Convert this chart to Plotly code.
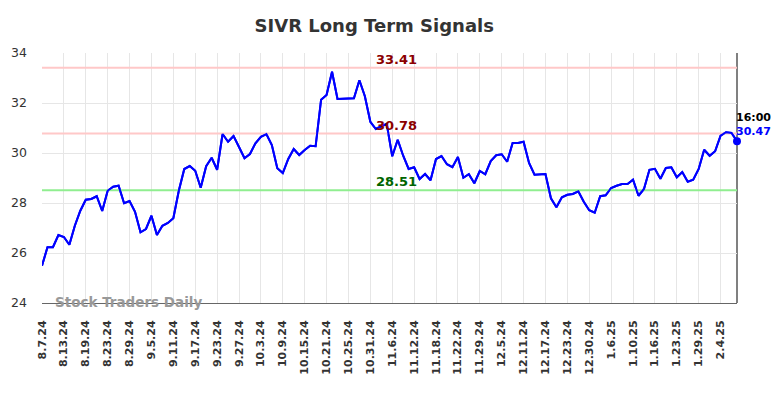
import pandas as pd
import plotly.graph_objects as go

holidays = ["2024-09-02", "2024-11-28", "2024-12-25", "2025-01-01", "2025-01-20"]
days = [d for d in pd.bdate_range("2024-08-07", "2025-02-13") if d.strftime("%Y-%m-%d") not in holidays]
dates = [f"{d.month}.{d.day}.{d.strftime('%y')}" for d in days]

prices = [
    25.49, 26.23, 26.23, 26.72, 26.64, 26.33, 27.09, 27.69, 28.13, 28.16,
    28.27, 27.68, 28.49, 28.65, 28.69, 27.99, 28.08, 27.65, 26.83, 26.96,
    27.49, 26.72, 27.09, 27.20, 27.39, 28.49, 29.36, 29.48, 29.29, 28.61,
    29.47, 29.81, 29.33, 30.76, 30.45, 30.68, 30.24, 29.79, 29.96, 30.39,
    30.65, 30.76, 30.32, 29.39, 29.20, 29.76, 30.16, 29.92, 30.12, 30.29,
    30.27, 32.13, 32.32, 33.25, 32.16, 32.16, 32.19, 32.19, 32.91, 32.27,
    31.25, 30.96, 31.07, 31.16, 29.87, 30.53, 29.89, 29.36, 29.43, 28.96,
    29.16, 28.91, 29.76, 29.88, 29.55, 29.43, 29.84, 29.01, 29.15, 28.79,
    29.28, 29.15, 29.68, 29.91, 29.95, 29.65, 30.40, 30.40, 30.45, 29.60,
    29.13, 29.16, 29.16, 28.19, 27.83, 28.23, 28.33, 28.36, 28.47, 28.05,
    27.71, 27.61, 28.27, 28.31, 28.60, 28.69, 28.76, 28.76, 28.93, 28.29,
    28.56, 29.33, 29.37, 28.97, 29.40, 29.43, 29.03, 29.24, 28.85, 28.93,
    29.36, 30.13, 29.89, 30.07, 30.69, 30.83, 30.80, 30.47,
]
dates = dates[:len(prices)]

upper_resist = 33.41
mid_resist = 30.78
support = 28.51
last_time = "16:00"
title = "SIVR Long Term Signals"
watermark = "Stock Traders Daily"

tick_vals = dates[::4]
y_ticks = [24, 26, 28, 30, 32, 34]

fig = go.Figure()
fig.add_trace(go.Scatter(x=dates, y=prices, mode="lines", line=dict(color="#0000ff", width=2),
                         showlegend=False))
for lvl, col in [(upper_resist, "#ffc8c8"), (mid_resist, "#ffc8c8"), (support, "#90ee90")]:
    fig.add_trace(go.Scatter(x=[dates[0], dates[-1]], y=[lvl, lvl], mode="lines",
                             line=dict(color=col, width=2), hoverinfo="skip", showlegend=False))
# redraw price above level lines
fig.add_trace(go.Scatter(x=dates, y=prices, mode="lines", line=dict(color="#0000ff", width=2),
                         showlegend=False))

fig.add_shape(type="line", xref="paper", yref="paper", x0=1, x1=1, y0=0, y1=1,
              line=dict(color="#808080", width=2), layer="below")
fig.add_trace(go.Scatter(x=[dates[-1]], y=[prices[-1]], mode="markers", cliponaxis=False,
                         marker=dict(color="#0000ff", size=8), showlegend=False))

mid_cat = dates[65]
for lvl, col in [(upper_resist, "#8b0000"), (mid_resist, "#8b0000"), (support, "#006400")]:
    fig.add_annotation(x=mid_cat, y=lvl, text=f"{lvl:.2f}", showarrow=False, yanchor="bottom",
                       xanchor="center", yshift=-1, xshift=-1,
                       font=dict(family="DejaVu Sans", size=13, color=col, weight="bold"))

fig.add_annotation(x=dates[-1], y=prices[-1], text=last_time, showarrow=False, xanchor="left",
                   yanchor="middle", yshift=24, xshift=-3,
                   font=dict(family="DejaVu Sans", size=11, color="#000000", weight="bold"))
fig.add_annotation(x=dates[-1], y=prices[-1], text=f"{prices[-1]:.2f}", showarrow=False, xanchor="left",
                   yanchor="middle", yshift=10, xshift=-3,
                   font=dict(family="DejaVu Sans", size=11, color="#0000ff", weight="bold"))
fig.add_annotation(xref="paper", yref="paper", x=0.016, y=0, text=watermark, showarrow=False,
                   xanchor="left", yanchor="middle", yshift=1,
                   font=dict(family="DejaVu Sans", size=13.5, color="#999999", weight="bold"))

fig.update_layout(
    width=776, height=390,
    margin=dict(l=34, r=47, t=45, b=95),
    paper_bgcolor="white", plot_bgcolor="white",
    title=dict(text=title, x=0.472, xanchor="center", y=0.954, yanchor="middle",
               font=dict(family="DejaVu Sans", size=18, color="#333333", weight="bold")),
)
fig.update_xaxes(type="category", categoryorder="array", categoryarray=dates,
                 range=[0, len(prices) - 1], tickmode="array", tickvals=tick_vals,
                 ticktext=tick_vals, tickangle=-90, showgrid=True, gridcolor="#e6e6e6", gridwidth=1,
                 showline=True, linecolor="#666666", linewidth=1, mirror=False, ticks="",
                 ticklabelstandoff=12, automargin=False,
                 tickfont=dict(family="DejaVu Sans", size=11, color="#333333", weight="bold"))
fig.update_yaxes(range=[24, 34], tickvals=y_ticks, showgrid=True, gridcolor="#e6e6e6", gridwidth=1,
                 zeroline=False, showline=False, ticks="", ticklabelstandoff=14, automargin=False,
                 tickfont=dict(family="DejaVu Sans", size=12.5, color="#333333"))

fig.write_html("out.html")
